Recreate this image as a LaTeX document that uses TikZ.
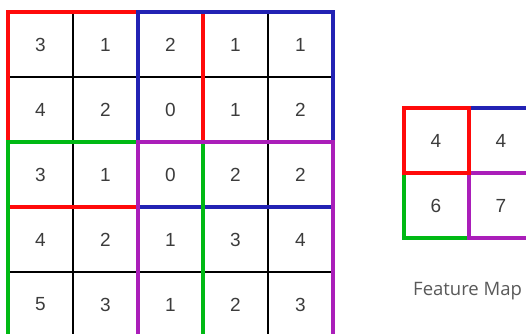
\documentclass[tikz,border=0pt]{standalone}
\usepackage{fontspec}
\setmainfont{Liberation Sans}
\newfontfamily\labelfont{Open Sans}
\usepackage{tikz}
\usetikzlibrary{positioning}

\definecolor{poolred}{RGB}{255,10,10}
\definecolor{poolblue}{RGB}{34,34,180}
\definecolor{poolgreen}{RGB}{0,185,20}
\definecolor{poolpurple}{RGB}{170,30,185}
\definecolor{digit}{RGB}{60,60,60}

\begin{document}
\begin{tikzpicture}[x=1pt, y=-1pt,
    cell/.style={rectangle, draw=black, line width=1.2pt, minimum size=65pt, inner sep=0pt, outer sep=0pt, text=digit, font=\fontsize{19}{21}\selectfont},
    fcell/.style={rectangle, minimum size=65pt, inner sep=0pt, outer sep=0pt, text=digit, font=\fontsize{19}{21}\selectfont},
    pool/.style={line width=4pt, line cap=rect},
    caption/.style={font=\labelfont\fontsize{18.5}{20}\selectfont, text=digit!85, inner sep=0pt}
]
\useasboundingbox (0,0) rectangle (526,333);
\clip (0,0) rectangle (526,333);

% input grid, 5x5
\foreach \row/\vals in {0/{3,1,2,1,1}, 1/{4,2,0,1,2}, 2/{3,1,0,2,2}, 3/{4,2,1,3,4}, 4/{5,3,1,2,3}} {
  \foreach \v [count=\col from 0] in \vals {
    \node[cell] (g-\row-\col) at (40.5+65*\col, 44.5+65*\row) {\v};
  }
}

% pooling windows
\draw[pool, poolred] (g-0-0.north west) rectangle (g-2-2.south east);
\draw[pool, poolblue] (g-0-2.north west) rectangle (g-2-4.south east);
\draw[pool, poolgreen] (g-2-0.north west) rectangle (g-4-2.south east);
\draw[pool, poolpurple] (g-2-2.north west) rectangle (g-4-4.south east);

% feature map, 2x2
\node[fcell] (f-0-0) at (436, 140.5) {4};
\node[fcell, right=0pt of f-0-0] (f-0-1) {4};
\node[fcell, below=0pt of f-0-0] (f-1-0) {6};
\node[fcell, right=0pt of f-1-0] (f-1-1) {7};

\draw[pool, poolblue] (f-0-1.north west) rectangle (f-0-1.south east);
\draw[pool, poolgreen] (f-1-0.north west) rectangle (f-1-0.south east);
\draw[pool, poolpurple] (f-1-1.north west) rectangle (f-1-1.south east);
\draw[pool, poolred] (f-0-0.north west) rectangle (f-0-0.south east);

\node[caption, anchor=base west] (fmap) at (413, 295) {Feature Map};
\end{tikzpicture}
\end{document}
